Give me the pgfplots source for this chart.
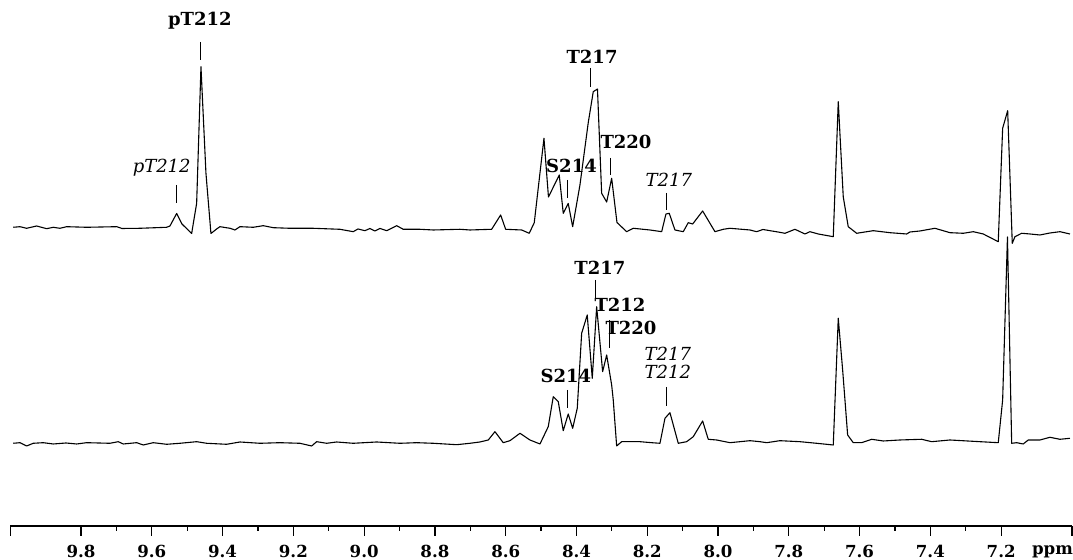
\documentclass[border=0pt]{standalone}
\usepackage{fontspec}
\setmainfont{DejaVu Serif}
\usepackage{pgfplots}
\pgfplotsset{compat=1.18}
\pgfplotstableread{
x y
9.9915 332.7
9.9726 333.3
9.9537 331.7
9.9254 334
9.8971 331.3
9.8785 332.7
9.8596 331.7
9.8406 333.3
9.7841 332.7
9.6993 333.3
9.6844 331.5
9.6335 331.7
9.5581 332.7
9.5487 334
9.5298 346.5
9.5148 336
9.4874 326.5
9.4733 356.7
9.4611 493.3
9.4470 386.7
9.4329 326.5
9.4168 331
9.4075 333.3
9.3792 331.7
9.3651 330
9.3509 333.3
9.3134 332.7
9.2851 334.3
9.2568 332.3
9.2097 331.7
9.1438 331.7
9.0684 330.7
9.0308 328.3
9.0175 331
8.9977 329.3
8.9836 331.5
8.9695 329
8.9553 331.5
8.9364 329.3
8.9081 334.3
8.8895 330.7
8.8423 330.7
8.8047 330
8.7293 330.7
8.7010 330
8.6397 330.7
8.6143 345
8.6001 330.7
8.5549 330
8.5335 326.7
8.5193 337.3
8.4919 421.7
8.4792 363
8.4487 385
8.4374 346.7
8.4233 356.5
8.4108 333.3
8.3902 375
8.3667 437.5
8.3526 468.3
8.3407 471
8.3289 366.7
8.3147 358
8.3006 381.7
8.2856 337.5
8.2582 328.3
8.2396 331.7
8.1924 330
8.1593 328.3
8.1472 346
8.1379 346.7
8.1218 330
8.0983 328.3
8.0842 337.3
8.0717 336
8.0435 349
8.0087 328.3
7.9853 330.7
7.9663 331.7
7.9098 330
7.8909 328.3
7.8731 330.5
7.8533 329.3
7.8307 328
7.8109 326.7
7.7827 330.7
7.7544 326
7.7403 328.3
7.7168 326
7.6744 323.3
7.6603 458.3
7.6462 363.3
7.6321 333.3
7.6083 326.7
7.5849 328
7.5614 329.3
7.5142 327.3
7.4670 326
7.4577 328
7.4295 329
7.3871 331.7
7.3447 327.3
7.3071 326.7
7.2788 328.3
7.2506 326
7.2082 318.3
7.1958 431.7
7.1816 449.3
7.1686 316.7
7.1610 323.3
7.1421 326.7
7.1186 326
7.0904 325
7.0621 327
7.0339 328.3
7.0056 326
}\toptrace
\pgfplotstableread{
x y
9.9915 116.7
9.9726 117.3
9.9537 114
9.9350 116.7
9.9068 117.3
9.8785 116
9.8426 117
9.8124 116
9.7841 117.3
9.7183 116.7
9.6948 118.3
9.6807 116
9.6428 117.3
9.6242 115
9.5959 117.3
9.5581 115.7
9.5205 116.7
9.4733 118.3
9.4450 116.7
9.3885 115.7
9.3509 118
9.2944 116.7
9.2379 117.3
9.1814 116.7
9.1483 114
9.1342 118.3
9.1059 116.7
9.0777 118
9.0308 116.7
8.9647 118
8.8988 116.7
8.8516 117.3
8.8047 116.7
8.7386 115.3
8.7010 116.7
8.6728 118
8.6493 120
8.6304 128.3
8.6069 117.3
8.5880 119.3
8.5597 126.7
8.5315 120
8.5032 116
8.4798 133.3
8.4656 163.3
8.4515 158.3
8.4374 129.3
8.4233 146
8.4108 131.7
8.3978 151.7
8.3854 226.7
8.3696 245
8.3554 181.7
8.3430 253.3
8.3261 188.3
8.3147 205
8.3006 175
8.2961 160
8.2865 114
8.2724 118.3
8.2207 118.3
8.1876 117.3
8.1641 116.7
8.1500 141.7
8.1359 147.3
8.1124 116.7
8.0887 118.3
8.0700 123.3
8.0435 139
8.0277 120.7
8.0039 120
7.9663 117.3
7.9098 119.3
7.8816 118.3
7.8626 117.3
7.8251 119.3
7.7685 118.3
7.7214 116.7
7.6744 115
7.6603 241.7
7.6479 190
7.6338 125
7.6179 117.3
7.5942 117.3
7.5659 120.7
7.5332 119
7.4860 120
7.4247 120.7
7.3964 118.3
7.3447 120
7.2599 118.3
7.2082 117.3
7.1958 160
7.1822 323
7.1703 116.7
7.1562 117.3
7.1376 116
7.1234 120
7.0904 120
7.0621 122.7
7.0339 120.7
7.0056 121.7
}\bottomtrace
\begin{document}
\begin{tikzpicture}
\begin{axis}[
  scale only axis,
  width=530.85pt, height=263pt,
  xmin=7, xmax=10, ymin=34, ymax=560,
  x dir=reverse,
  axis x line=bottom, axis y line=none,
  x axis line style={-, line width=0.75pt},
  clip=false,
  tick align=outside,
  xtick={7.2,7.4,7.6,7.8,8.0,8.2,8.4,8.6,8.8,9.0,9.2,9.4,9.6,9.8},
  extra x ticks={7.0,10.0},
  extra x tick labels={},
  minor x tick num=1,
  major tick length=5pt,
  minor tick length=2.5pt,
  every tick/.style={black, line width=0.6pt},
  xticklabel style={font=\bfseries\fontsize{8.3}{9}\selectfont, yshift=-1pt},
  xticklabel={\pgfmathprintnumber[fixed,fixed zerofill,precision=1,assume math mode=true]{\tick}},
]
\addplot[black, line width=0.55pt, line join=round] table[x=x,y=y] {\toptrace};
\addplot[black, line width=0.55pt, line join=round] table[x=x,y=y] {\bottomtrace};

\coordinate (bl) at (axis cs:10.029,0);
\coordinate (tr) at (axis cs:6.997,560);

\begin{scope}[every node/.style={inner sep=0pt}]
% top annotations
\node[font=\bfseries\fontsize{9}{10}\selectfont] at (axis cs:9.464,539) {pT212};
\draw[line width=0.5pt] (axis cs:9.461,518) -- (axis cs:9.461,500);
\node[font=\itshape\fontsize{9}{10}\selectfont] at (axis cs:9.572,392) {pT212};
\draw[line width=0.5pt] (axis cs:9.530,375) -- (axis cs:9.530,357);
\node[font=\bfseries\fontsize{9}{10}\selectfont] at (axis cs:8.356,503) {T217};
\draw[line width=0.5pt] (axis cs:8.360,492) -- (axis cs:8.360,473);
\node[font=\bfseries\fontsize{9}{10}\selectfont] at (axis cs:8.260,418) {T220};
\draw[line width=0.5pt] (axis cs:8.303,402) -- (axis cs:8.303,385);
\node[font=\bfseries\fontsize{9}{10}\selectfont] at (axis cs:8.414,394) {S214};
\draw[line width=0.5pt] (axis cs:8.425,380) -- (axis cs:8.425,362);
\node[font=\itshape\fontsize{9}{10}\selectfont] at (axis cs:8.139,380) {T217};
\draw[line width=0.5pt] (axis cs:8.145,367) -- (axis cs:8.145,350);
% bottom annotations
\node[font=\bfseries\fontsize{9}{10}\selectfont] at (axis cs:8.334,292) {T217};
\draw[line width=0.5pt] (axis cs:8.345,280) -- (axis cs:8.345,262);
\node[font=\bfseries\fontsize{9}{10}\selectfont] at (axis cs:8.277,255) {T212};
\node[font=\bfseries\fontsize{9}{10}\selectfont] at (axis cs:8.246,232) {T220};
\draw[line width=0.5pt] (axis cs:8.307,240) -- (axis cs:8.307,212);
\node[font=\bfseries\fontsize{9}{10}\selectfont] at (axis cs:8.430,184) {S214};
\draw[line width=0.5pt] (axis cs:8.425,170) -- (axis cs:8.425,152);
\node[font=\itshape\fontsize{9}{10}\selectfont, align=center] at (axis cs:8.142,197) {T217\\[-1pt]T212};
\draw[line width=0.5pt] (axis cs:8.145,173) -- (axis cs:8.145,154);
\node[font=\bfseries\fontsize{8.3}{9}\selectfont] at (axis cs:7.055,8) {ppm};
\end{scope}
\end{axis}
\pgfresetboundingbox
\path[use as bounding box] (bl) rectangle (tr);
\end{tikzpicture}
\end{document}
